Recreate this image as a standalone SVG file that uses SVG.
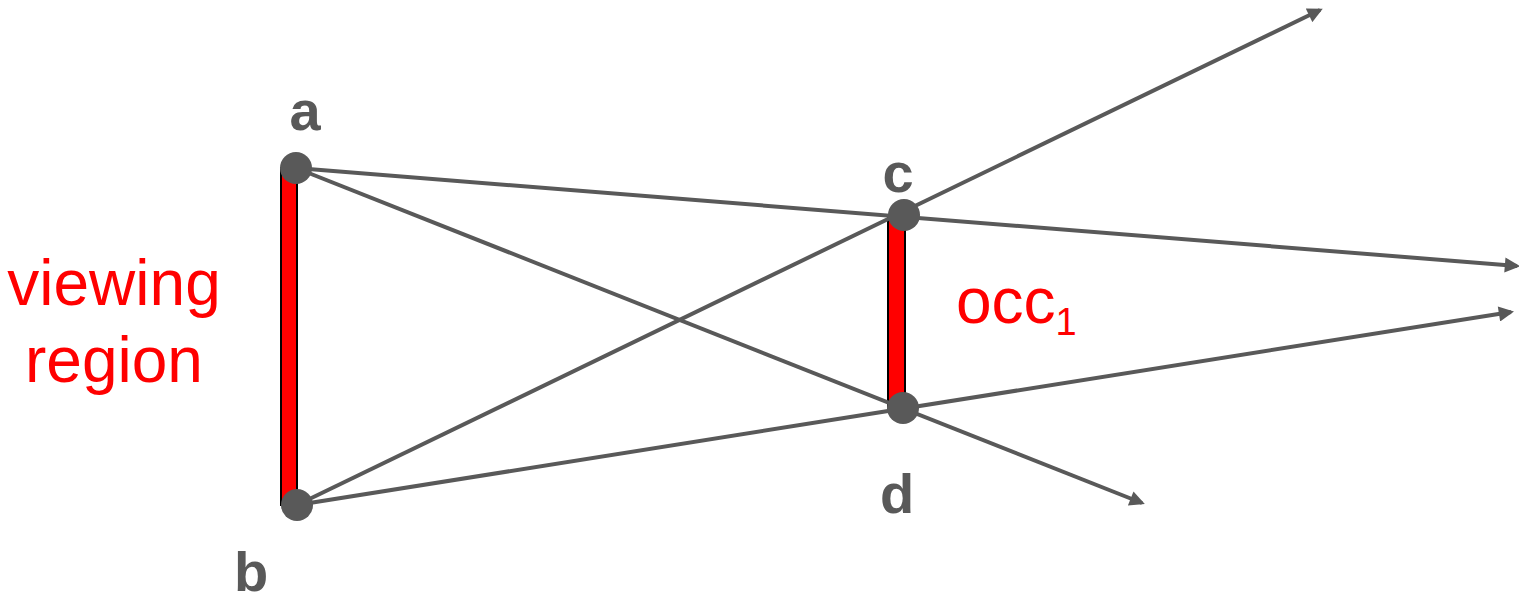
<svg xmlns="http://www.w3.org/2000/svg" width="1519" height="594" viewBox="0 0 1519 594">
<defs>
<marker id="arr" viewBox="0 0 10 10" refX="8" refY="5" markerWidth="4.2" markerHeight="3.8" orient="auto" markerUnits="strokeWidth">
<path d="M0,0 L10,5 L0,10 z" fill="#595959"/>
</marker>
<style>
.ray{stroke:#595959;stroke-width:4;fill:none}
.pt{fill:#595959}
.bar{fill:#ff0000;stroke:#000;stroke-width:2}
.lbl{font-family:"Liberation Sans",Arial,sans-serif;font-weight:bold;font-size:56px;fill:#595959}
.red{font-family:"Liberation Sans",Arial,sans-serif;font-size:64px;fill:#ff0000}
</style>
</defs>
<g id="viewing-region">
<rect class="bar" x="281" y="168" width="16" height="337"/>
<text class="red" x="114" y="305" text-anchor="middle">viewing</text>
<text class="red" x="114" y="382" text-anchor="middle">region</text>
</g>
<g id="occ1">
<rect class="bar" x="888" y="215" width="17" height="193"/>
<text class="red" x="956" y="323" font-size="58">occ<tspan font-size="38" dy="12">1</tspan></text>
</g>
<g id="connectors">
<line class="ray" x1="296" y1="168" x2="1517" y2="266" marker-end="url(#arr)"/>
<line class="ray" x1="296" y1="168" x2="1142" y2="503" marker-end="url(#arr)"/>
<line class="ray" x1="297" y1="505" x2="1320" y2="10" marker-end="url(#arr)"/>
<line class="ray" x1="297" y1="505" x2="1511" y2="312" marker-end="url(#arr)"/>
</g>
<g id="node-a"><circle class="pt" cx="296" cy="168" r="16"/><text class="lbl" x="305" y="130" text-anchor="middle">a</text></g>
<g id="node-b"><circle class="pt" cx="297" cy="505" r="16"/><text class="lbl" x="251" y="591" text-anchor="middle">b</text></g>
<g id="node-c"><circle class="pt" cx="904" cy="215" r="16"/><text class="lbl" x="898" y="192" text-anchor="middle">c</text></g>
<g id="node-d"><circle class="pt" cx="903" cy="408" r="16"/><text class="lbl" x="897" y="513" text-anchor="middle">d</text></g>
</svg>
